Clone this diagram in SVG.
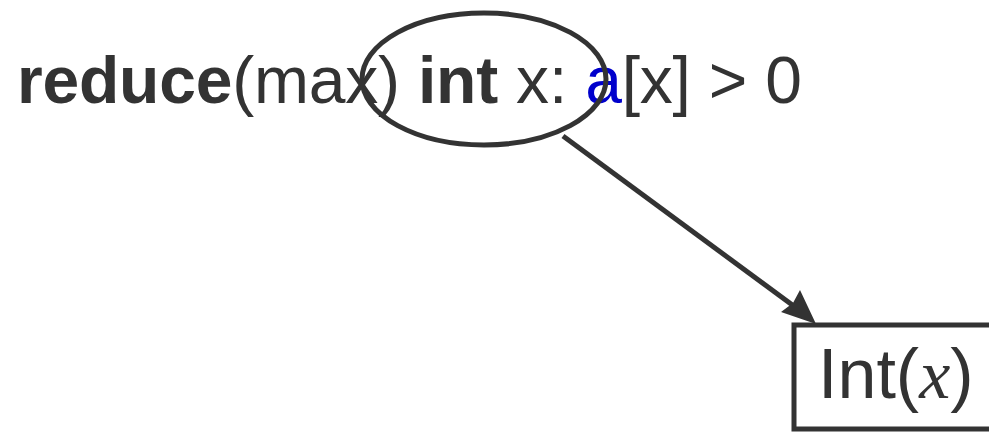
<svg xmlns="http://www.w3.org/2000/svg" width="989" height="433" viewBox="0 0 989 433">
<style>
.t{font-family:"Liberation Sans",Arial,sans-serif;fill:#333;font-size:66px}
.b{font-weight:bold}
.s{stroke:#333;fill:none;stroke-width:5}
</style>
<rect width="989" height="433" fill="#fff"/>
<g id="expr">
<text class="t" x="17" y="103" textLength="785"><tspan class="b">reduce</tspan>(max) <tspan class="b">int</tspan> x: <tspan fill="#0000cc">a</tspan>[x] &gt; 0</text>
</g>
<g id="focus">
<ellipse class="s" cx="484" cy="79" rx="122" ry="66"/>
</g>
<g id="connectors">
<line class="s" x1="563" y1="136" x2="810" y2="318"/>
<path d="M816,324 L781,312 L793,303 L800,290 Z" fill="#333"/>
</g>
<g id="int">
<rect x="794" y="325" width="198" height="104" fill="#fff" stroke="#333" stroke-width="5"/>
<text class="t" x="818" y="398" style="font-size:70px">Int(<tspan style="font-family:'Liberation Serif',serif;font-style:italic">x</tspan>)</text>
</g>
</svg>
